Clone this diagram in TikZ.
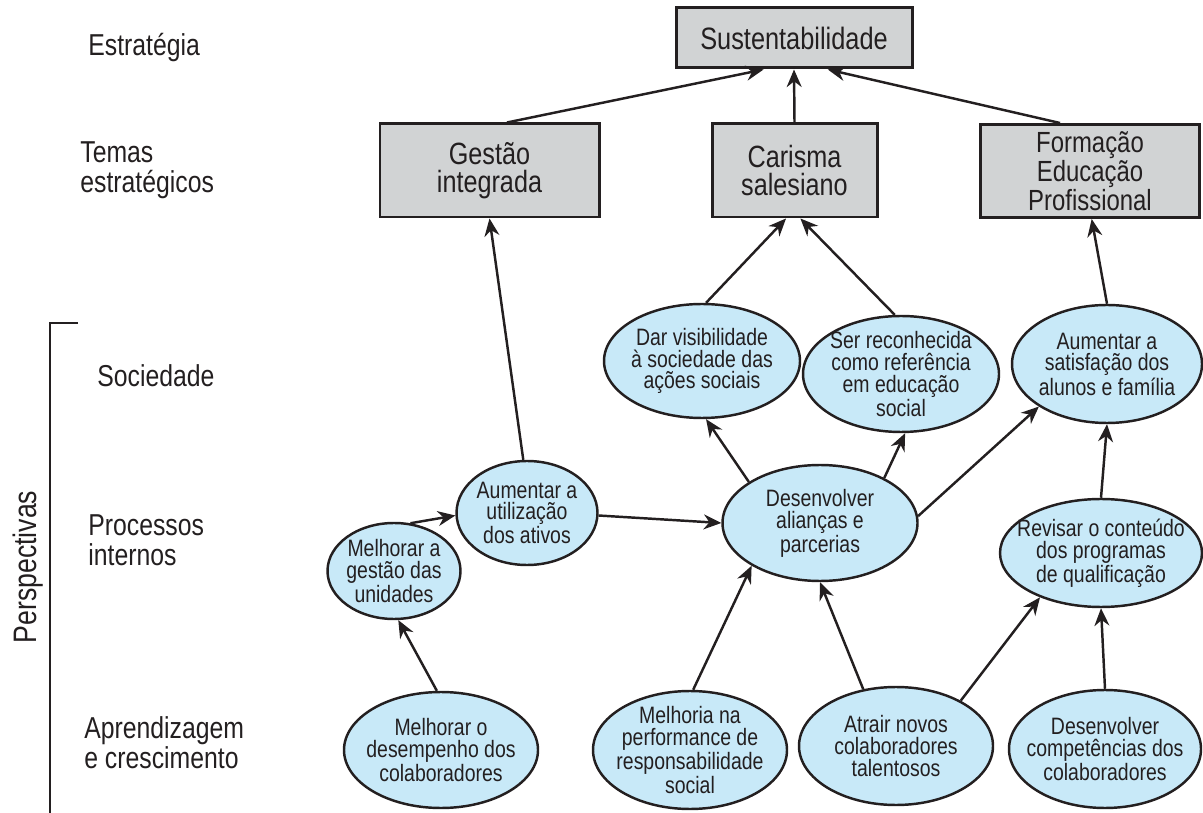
\documentclass[tikz,border=0pt]{standalone}
\usepackage{fontspec}
\setmainfont{Liberation Sans}[FakeStretch=0.82]
\usetikzlibrary{arrows.meta,shapes.geometric}
\definecolor{ink}{RGB}{35,31,32}
\definecolor{bubble}{RGB}{200,233,248}
\definecolor{panel}{RGB}{209,211,212}

\begin{document}
\begin{tikzpicture}[x=0.02cm,y=-0.02cm,
  every node/.style={text=ink},
  dims/.style 2 args={minimum width=#1*0.02cm, minimum height=#2*0.02cm},
  goal/.style={ellipse, draw=ink, line width=1.4pt, fill=bubble, inner sep=-14pt,
    align=center, font=\fontsize{13.5}{12.4}\selectfont},
  theme/.style={rectangle, draw=ink, line width=1.7pt, fill=panel, inner sep=0pt,
    align=center, font=\fontsize{17.5}{16}\selectfont},
  level/.style={anchor=west, align=left, inner sep=0pt, font=\fontsize{17.2}{17}\selectfont},
  link/.style={draw=ink, line width=1.4pt, -{Stealth[length=10pt,width=8.5pt]}}
]
\useasboundingbox (0,0) rectangle (1203,813);

% row labels
\node[level] (lstrat) at (88,48) {Estratégia};
\node[level] (ltemas) at (80,170) {Temas\\estratégicos};
\node[level] (lsoc) at (97,376) {Sociedade};
\node[level] (lproc) at (88,540) {Processos\\internos};
\node[level] (lapr) at (84,743) {Aprendizagem\\e crescimento};
\node[rotate=90, inner sep=0pt, font=\fontsize{18.5}{18}\selectfont] (lpersp) at (28,567) {Perspectivas};
\draw[ink, line width=1.7pt] (78,323) -- (50,323) -- (50,813);

% strategy and strategic themes
\node[theme, dims={236}{60}, font=\fontsize{17.6}{16}\selectfont] (sust) at (794,38) {Sustentabilidade};
\node[theme, dims={219}{93}] (gestao) at (489.5,170.5) {Gestão\\integrada};
\node[theme, dims={165}{93}] (carisma) at (794.5,170.5) {Carisma\\salesiano};
\node[theme, dims={219}{93}, font=\fontsize{16.6}{15}\selectfont] (formacao) at (1090,171) {Formação\\Educação\\Profissional};

% society
\node[goal, dims={196}{114}] (dar) at (702,361) {Dar visibilidade\\à sociedade das\\ações sociais};
\node[goal, dims={196}{116}] (ser) at (901,374) {Ser reconhecida\\como referência\\em educação\\social};
\node[goal, dims={190}{118}] (sat) at (1107,364) {Aumentar a\\satisfação dos\\alunos e família};

% internal processes
\node[goal, dims={133}{96}] (melhgest) at (394,571) {Melhorar a\\gestão das\\unidades};
\node[goal, dims={141}{104}] (aument) at (527,513) {Aumentar a\\utilização\\dos ativos};
\node[goal, dims={195}{116}] (desenv) at (820,523) {Desenvolver\\alianças e\\parcerias};
\node[goal, dims={202}{108}] (revisar) at (1101,553) {Revisar o conteúdo\\dos programas\\de qualificação};

% learning and growth
\node[goal, dims={194}{116}] (melhdes) at (441,750) {Melhorar o\\desempenho dos\\colaboradores};
\node[goal, dims={194}{118}] (melhoria) at (690,750) {Melhoria na\\performance de\\responsabilidade\\social};
\node[goal, dims={194}{118}] (atrair) at (896,746) {Atrair novos\\colaboradores\\talentosos};
\node[goal, dims={192}{118}] (desenvcomp) at (1105,749) {Desenvolver\\competências dos\\colaboradores};

% cause-and-effect links
\draw[link] (gestao.70) -- (sust.226);
\draw[link] (carisma.north) -- (sust.south);
\draw[link] (formacao.122) -- (sust.317);

\draw[link] (aument.94) -- (gestao.south);
\draw[link] (dar.86) -- (carisma.260);
\draw[link] (ser.96) -- (carisma.277);
\draw[link] (sat.north) -- (formacao.272);

\draw[link] (desenv.150) -- (dar.274);
\draw[link] (desenv.35) -- (ser.274);
\draw[link] (desenv.4) -- (sat.212);
\draw[link] (revisar.north) -- (sat.south);

\draw[link] (melhgest.71) -- (aument.182);
\draw[link] (aument.358) -- (desenv.180);

\draw[link] (melhdes.94) -- (melhgest.275);
\draw[link] (melhoria.87) -- (desenv.212);
\draw[link] (atrair.120) -- (desenv.270);
\draw[link] (atrair.35) -- (revisar.216);
\draw[link] (desenvcomp.north) -- (revisar.south);
\end{tikzpicture}
\end{document}
